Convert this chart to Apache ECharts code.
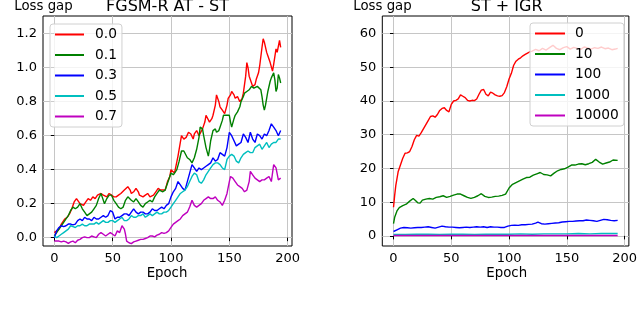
<!DOCTYPE html>
<html><head><meta charset="utf-8">
<script src="https://cdn.jsdelivr.net/npm/echarts@6/dist/echarts.min.js"></script>
<style>html,body{margin:0;padding:0;background:#fff}#c{width:640px;height:316px}</style>
</head><body><div id="c"></div>
<script>
// ---------- data ----------
const leftTitle = 'FGSM-R AT - ST';
const rightTitle = 'ST + IGR';
const yLabel = 'Loss gap';
const xLabel = 'Epoch';
const leftNames = ['0.0', '0.1', '0.3', '0.5', '0.7'];
const rightNames = ['0', '10', '100', '1000', '10000'];
const xTicks = [0, 50, 100, 150, 200];
const leftYTicks = [0, 0.2, 0.4, 0.6, 0.8, 1.0, 1.2];
const rightYTicks = [0, 10, 20, 30, 40, 50, 60];

const fgsm00 = [[0,0.03],[2,0.04],[4,0.05],[6,0.08],[9,0.11],[11,0.12],[13,0.14],[15,0.17],[17,0.21],[19,0.23],[20,0.22],[22,0.2],[25,0.19],[27,0.21],[29,0.23],[31,0.22],[33,0.24],[35,0.23],[37,0.25],[40,0.26],[42,0.25],[45,0.24],[47,0.26],[49,0.25],[51,0.24],[53,0.24],[55,0.25],[57,0.26],[60,0.28],[63,0.3],[65,0.28],[66,0.26],[68,0.27],[70,0.29],[72,0.27],[73,0.25],[76,0.24],[78,0.25],[80,0.26],[82,0.24],[85,0.25],[87,0.27],[89,0.29],[91,0.28],[92,0.27],[95,0.28],[97,0.33],[99,0.36],[100,0.4],[101,0.41],[103,0.38],[106,0.48],[108,0.56],[109,0.6],[111,0.58],[113,0.59],[115,0.62],[117,0.61],[119,0.58],[120,0.61],[122,0.63],[124,0.6],[125,0.61],[127,0.64],[129,0.68],[130,0.72],[131,0.71],[133,0.68],[135,0.7],[136,0.72],[138,0.78],[139,0.84],[141,0.8],[142,0.77],[144,0.75],[146,0.73],[148,0.78],[149,0.82],[151,0.84],[152,0.86],[154,0.84],[155,0.82],[157,0.83],[159,0.8],[161,0.82],[162,0.85],[164,0.95],[165,1.03],[166,1.0],[167,0.95],[169,0.91],[170,0.89],[172,0.9],[173,0.93],[175,0.97],[176,1.01],[178,1.12],[179,1.17],[180,1.15],[182,1.09],[183,1.07],[185,1.03],[187,0.98],[188,1.02],[190,1.11],[191,1.09],[193,1.16],[194,1.12]];
const fgsm01 = [[0,0.01],[2,0.03],[4,0.05],[6,0.07],[8,0.09],[10,0.11],[12,0.13],[14,0.16],[16,0.18],[18,0.17],[20,0.18],[22,0.2],[24,0.17],[26,0.15],[28,0.13],[30,0.14],[32,0.15],[34,0.17],[36,0.19],[38,0.23],[40,0.26],[41,0.24],[43,0.2],[45,0.23],[47,0.25],[49,0.25],[51,0.22],[53,0.2],[55,0.18],[57,0.17],[59,0.18],[61,0.22],[63,0.24],[64,0.25],[66,0.22],[68,0.21],[70,0.23],[72,0.21],[74,0.19],[76,0.18],[78,0.2],[80,0.21],[82,0.22],[84,0.21],[86,0.24],[88,0.26],[90,0.28],[91,0.29],[93,0.27],[95,0.28],[97,0.32],[99,0.36],[100,0.38],[102,0.37],[103,0.36],[105,0.4],[107,0.45],[109,0.51],[111,0.51],[112,0.5],[114,0.47],[116,0.46],[118,0.44],[120,0.47],[122,0.52],[124,0.59],[125,0.65],[127,0.64],[128,0.6],[130,0.53],[132,0.48],[133,0.52],[134,0.57],[136,0.63],[138,0.64],[139,0.62],[141,0.63],[142,0.65],[144,0.69],[145,0.72],[147,0.72],[148,0.71],[150,0.72],[151,0.68],[152,0.65],[154,0.7],[155,0.72],[157,0.74],[159,0.77],[160,0.8],[162,0.83],[163,0.85],[165,0.86],[167,0.87],[169,0.89],[171,0.88],[172,0.88],[174,0.89],[175,0.9],[177,0.87],[178,0.83],[179,0.78],[180,0.75],[181,0.78],[183,0.86],[185,0.92],[186,0.94],[188,0.97],[189,0.93],[190,0.86],[191,0.88],[192,0.96],[193,0.94],[194,0.91]];
const fgsm03 = [[0,0.0],[2,0.04],[4,0.06],[6,0.07],[8,0.065],[10,0.07],[12,0.08],[14,0.08],[16,0.075],[18,0.08],[20,0.1],[22,0.11],[24,0.1],[26,0.12],[28,0.11],[30,0.11],[32,0.1],[34,0.12],[36,0.11],[38,0.11],[40,0.12],[42,0.13],[44,0.12],[46,0.13],[48,0.16],[49,0.17],[50,0.15],[52,0.11],[54,0.12],[56,0.12],[58,0.13],[60,0.14],[62,0.14],[64,0.13],[66,0.15],[68,0.17],[70,0.15],[72,0.14],[74,0.15],[76,0.15],[78,0.14],[80,0.14],[82,0.15],[84,0.17],[86,0.16],[88,0.16],[90,0.17],[92,0.18],[94,0.17],[96,0.19],[98,0.2],[100,0.24],[102,0.27],[104,0.29],[106,0.33],[108,0.31],[110,0.29],[112,0.28],[114,0.33],[116,0.38],[118,0.43],[120,0.41],[122,0.39],[124,0.41],[126,0.4],[128,0.41],[130,0.42],[132,0.43],[134,0.44],[136,0.47],[138,0.45],[140,0.46],[142,0.5],[144,0.49],[146,0.48],[148,0.53],[150,0.62],[152,0.6],[154,0.57],[156,0.54],[158,0.55],[160,0.56],[162,0.61],[164,0.59],[166,0.56],[168,0.62],[170,0.58],[172,0.56],[174,0.61],[176,0.6],[178,0.58],[180,0.61],[182,0.6],[184,0.63],[186,0.67],[188,0.65],[190,0.63],[192,0.6],[194,0.63]];
const fgsm05 = [[0,0.01],[2,0.0],[4,0.01],[6,0.02],[8,0.03],[10,0.04],[12,0.05],[14,0.07],[16,0.065],[18,0.06],[20,0.07],[22,0.07],[24,0.08],[26,0.07],[28,0.07],[30,0.08],[32,0.08],[34,0.08],[36,0.09],[38,0.08],[40,0.09],[42,0.1],[44,0.09],[46,0.09],[48,0.1],[50,0.1],[52,0.09],[54,0.1],[56,0.11],[58,0.12],[60,0.1],[62,0.1],[64,0.11],[66,0.13],[68,0.12],[70,0.12],[72,0.13],[74,0.13],[76,0.14],[78,0.12],[80,0.13],[82,0.14],[84,0.13],[86,0.14],[88,0.15],[90,0.14],[92,0.14],[94,0.15],[96,0.15],[98,0.16],[100,0.18],[102,0.2],[104,0.22],[106,0.24],[108,0.26],[110,0.27],[112,0.28],[114,0.3],[116,0.33],[118,0.36],[120,0.38],[122,0.37],[124,0.33],[126,0.32],[128,0.34],[130,0.37],[132,0.39],[134,0.41],[136,0.43],[138,0.44],[140,0.44],[142,0.43],[144,0.41],[146,0.4],[148,0.46],[150,0.48],[152,0.49],[154,0.48],[156,0.45],[158,0.44],[160,0.47],[162,0.49],[164,0.5],[166,0.51],[168,0.5],[170,0.5],[172,0.53],[174,0.54],[176,0.55],[178,0.52],[180,0.54],[182,0.56],[184,0.53],[186,0.55],[188,0.56],[190,0.56],[192,0.58],[194,0.58]];
const fgsm07 = [[0,-0.02],[2,-0.02],[4,-0.02],[6,-0.025],[8,-0.02],[10,-0.025],[12,-0.033],[14,-0.025],[16,-0.02],[18,-0.03],[20,-0.015],[22,-0.01],[24,0.0],[26,0.005],[28,0.0],[30,0.0],[32,0.01],[34,0.005],[36,0.0],[38,0.02],[40,0.03],[42,0.02],[44,0.01],[46,0.02],[48,0.03],[50,0.02],[52,0.01],[54,0.04],[56,0.03],[58,0.07],[60,0.05],[61,0.02],[62,-0.02],[64,-0.03],[66,-0.035],[68,-0.025],[70,-0.02],[72,-0.015],[74,-0.01],[76,-0.01],[78,-0.005],[80,0.0],[82,0.01],[84,0.01],[86,0.005],[88,0.015],[90,0.02],[92,0.03],[94,0.025],[96,0.03],[98,0.04],[100,0.06],[102,0.08],[104,0.09],[106,0.1],[108,0.11],[110,0.13],[112,0.14],[114,0.15],[116,0.18],[118,0.22],[120,0.19],[122,0.18],[124,0.19],[126,0.2],[128,0.22],[130,0.23],[132,0.24],[134,0.23],[136,0.23],[138,0.24],[140,0.22],[142,0.21],[144,0.19],[146,0.22],[148,0.26],[150,0.33],[151,0.36],[153,0.35],[155,0.33],[157,0.31],[159,0.3],[161,0.29],[163,0.27],[165,0.28],[167,0.33],[168,0.39],[170,0.37],[172,0.35],[174,0.34],[176,0.33],[178,0.34],[180,0.34],[182,0.35],[184,0.36],[186,0.33],[188,0.43],[190,0.41],[192,0.34],[194,0.35]];

const igr0 = [[0,8.5],[1,12],[2,15],[3,17],[4,19],[6,21],[8,23],[10,24.5],[12,24.6],[14,25],[16,26.5],[18,28.5],[20,29.8],[22,29.6],[24,30.6],[26,31.8],[28,33],[30,34.2],[32,35.4],[34,35.6],[36,35.2],[38,36],[40,37.2],[42,37.8],[44,38],[46,37.2],[48,36.8],[50,39],[52,40],[54,40.2],[56,40.6],[58,41.8],[60,41.4],[62,41],[64,40.2],[66,40],[68,40.2],[70,40.1],[72,40.6],[74,42],[76,43.2],[78,43.4],[80,42],[82,41.5],[84,42.6],[86,42.3],[88,41.8],[90,41.5],[92,41.4],[94,41.6],[96,42.5],[98,44.2],[100,46.5],[102,48.2],[104,50.6],[106,51.8],[108,52.4],[110,52.8],[112,53.4],[114,53.8],[116,54.2],[118,54.6],[120,54.8],[123,55.3],[126,54.9],[129,55.6],[132,55.1],[135,55.8],[138,56.5],[141,55.6],[144,55.2],[147,55.8],[150,56.1],[153,55.4],[156,55.9],[159,55.6],[162,55.3],[165,56.0],[168,55.7],[171,55.4],[174,55.8],[177,55.6],[180,56.0],[183,55.5],[186,55.7],[189,55.2],[192,55.4],[194,55.6]];
const igr10 = [[0,3.6],[1,5.5],[3,7.4],[5,8.4],[8,9],[11,9.4],[14,10.3],[17,11.1],[19,10.5],[21,9.8],[23,9.7],[25,10.6],[28,10.9],[31,11.1],[34,10.9],[37,11.4],[40,11.6],[43,11.9],[46,11.4],[49,11.7],[52,12.1],[55,12.4],[58,12.4],[61,11.9],[64,11.4],[67,11.1],[70,11.4],[73,11.9],[76,12.5],[79,11.7],[82,11.4],[85,11.5],[88,11.7],[91,11.8],[94,12],[97,12.4],[100,14.2],[103,15.3],[106,15.8],[109,16.3],[112,16.8],[115,17.3],[118,17.4],[121,18],[124,18.4],[127,18.8],[130,18.2],[133,18.1],[136,17.8],[139,18.6],[142,19.3],[145,19.7],[148,19.9],[151,20.4],[154,21],[157,21],[160,21.3],[163,21.4],[166,21.1],[169,21.4],[172,21.8],[175,22.7],[178,21.9],[181,21.3],[184,21.6],[187,21.9],[190,22.5],[194,22.4]];
const igr100 = [[0,1.3],[3,1.8],[6,2.3],[9,2.5],[12,2.4],[15,2.3],[18,2.4],[21,2.5],[24,2.5],[27,2.6],[30,2.7],[33,2.5],[36,2.3],[39,2.6],[42,2.9],[45,2.7],[48,2.6],[51,2.6],[54,2.5],[57,2.4],[60,2.5],[63,2.6],[66,2.5],[69,2.6],[72,2.7],[75,2.6],[78,2.7],[81,2.5],[84,2.7],[87,2.6],[90,2.6],[93,2.5],[96,2.5],[99,2.9],[102,3.1],[105,3.2],[108,3.1],[111,3.3],[114,3.3],[117,3.4],[120,3.5],[123,3.8],[125,4.1],[128,3.6],[131,3.5],[134,3.6],[137,3.7],[140,3.8],[143,3.9],[146,4.1],[149,4.2],[152,4.3],[155,4.3],[158,4.4],[161,4.5],[164,4.5],[167,4.7],[170,4.6],[173,4.5],[176,4.3],[179,4.6],[182,4.9],[185,4.8],[188,4.6],[191,4.5],[194,4.6]];
const igr1000 = [[0,0.4],[10,0.4],[20,0.5],[30,0.5],[40,0.4],[50,0.5],[60,0.5],[70,0.4],[80,0.5],[90,0.5],[100,0.5],[110,0.6],[120,0.5],[130,0.6],[140,0.6],[150,0.6],[160,0.7],[170,0.6],[180,0.7],[190,0.7],[194,0.7]];
const igr10000 = [[0,0.1],[20,0.1],[40,0.1],[60,0.1],[80,0.1],[100,0.1],[120,0.1],[140,0.1],[160,0.1],[180,0.1],[194,0.1]];

const leftData = [fgsm00, fgsm01, fgsm03, fgsm05, fgsm07];
const rightData = [igr0, igr10, igr100, igr1000, igr10000];
const colors = ['#ff0000', '#008000', '#0000ff', '#00bfbf', '#bf00bf'];

// ---------- chart ----------
const FF = 'DejaVu Sans';
const chart = echarts.init(document.getElementById('c'), null, {renderer: 'canvas'});

function xAxis(gi) {
  return {
    gridIndex: gi, type: 'value', min: -9.7, max: 203.7, splitNumber: 4,
    axisLine: {show: false},
    axisTick: {show: true, length: 3.5, lineStyle: {color: '#000', width: 1}, customValues: xTicks},
    axisLabel: {customValues: xTicks, margin: 6, color: '#000', fontSize: 13, fontFamily: FF},
    splitLine: {show: true, lineStyle: {color: '#c6c6c6', width: 1}}
  };
}
function yAxis(gi, min, max, ticks, fmt) {
  return {
    gridIndex: gi, type: 'value', min: min, max: max, splitNumber: 6,
    axisLine: {show: false},
    axisTick: {show: true, length: 3.5, lineStyle: {color: '#000', width: 1}, customValues: ticks},
    axisLabel: {customValues: ticks, margin: 6, color: '#000', fontSize: 13, fontFamily: FF, formatter: fmt},
    splitLine: {show: true, lineStyle: {color: '#c6c6c6', width: 1}}
  };
}
function legend(left, top, names, gapText, itemW) {
  return {
    left: left, top: top, orient: 'vertical',
    data: names.map(n => ({name: n, icon: 'rect'})),
    itemWidth: itemW, itemHeight: 2, itemGap: 6.5,
    padding: [3.5, 5, 3.5, 5],
    backgroundColor: 'rgba(255,255,255,0.8)', borderColor: '#d0d0d0', borderWidth: 1, borderRadius: 3,
    textStyle: {fontFamily: FF, fontSize: 13.8, color: '#000', lineHeight: 14, padding: [0, 0, 0, gapText]},
    selectedMode: false
  };
}
const series = [];
leftData.forEach((d, i) => series.push({
  name: leftNames[i], type: 'line', xAxisIndex: 0, yAxisIndex: 0, data: d,
  showSymbol: false, symbol: 'none', lineStyle: {color: colors[i], width: 1.4}, itemStyle: {color: colors[i]},
  legendIndex: 0
}));
rightData.forEach((d, i) => series.push({
  name: rightNames[i], type: 'line', xAxisIndex: 1, yAxisIndex: 1, data: d,
  showSymbol: false, symbol: 'none', lineStyle: {color: colors[i], width: 1.4}, itemStyle: {color: colors[i]}
}));

const txt = (x, y, s, size) => ({type: 'text', x: x, y: y, style: {text: s, fill: '#000', font: size + 'px "' + FF + '"', textAlign: 'center', textVerticalAlign: 'middle'}});

chart.setOption({
  animation: false,
  backgroundColor: '#fff',
  grid: [
    {left: 43, top: 16, width: 249, height: 230, show: true, borderColor: '#000', borderWidth: 1, backgroundColor: 'transparent'},
    {left: 382.3, top: 16, width: 248.7, height: 230, show: true, borderColor: '#000', borderWidth: 1, backgroundColor: 'transparent'}
  ],
  xAxis: [xAxis(0), xAxis(1)],
  yAxis: [
    yAxis(0, -0.049, 1.304, leftYTicks, v => v.toFixed(1)),
    yAxis(1, -3, 65.2, rightYTicks, v => String(Math.round(v)))
  ],
  legend: [legend(50, 24, leftNames, 6, 29), legend(530, 23, rightNames, 5, 30)],
  series: series,
  graphic: [
    txt(167.5, 7, leftTitle, 16),
    txt(506.7, 7, rightTitle, 16),
    txt(43.5, 7, yLabel, 13.3),
    txt(382.5, 7, yLabel, 13.3),
    txt(167, 273.5, xLabel, 13.3),
    txt(506.7, 273.5, xLabel, 13.3)
  ]
});
</script></body></html>
